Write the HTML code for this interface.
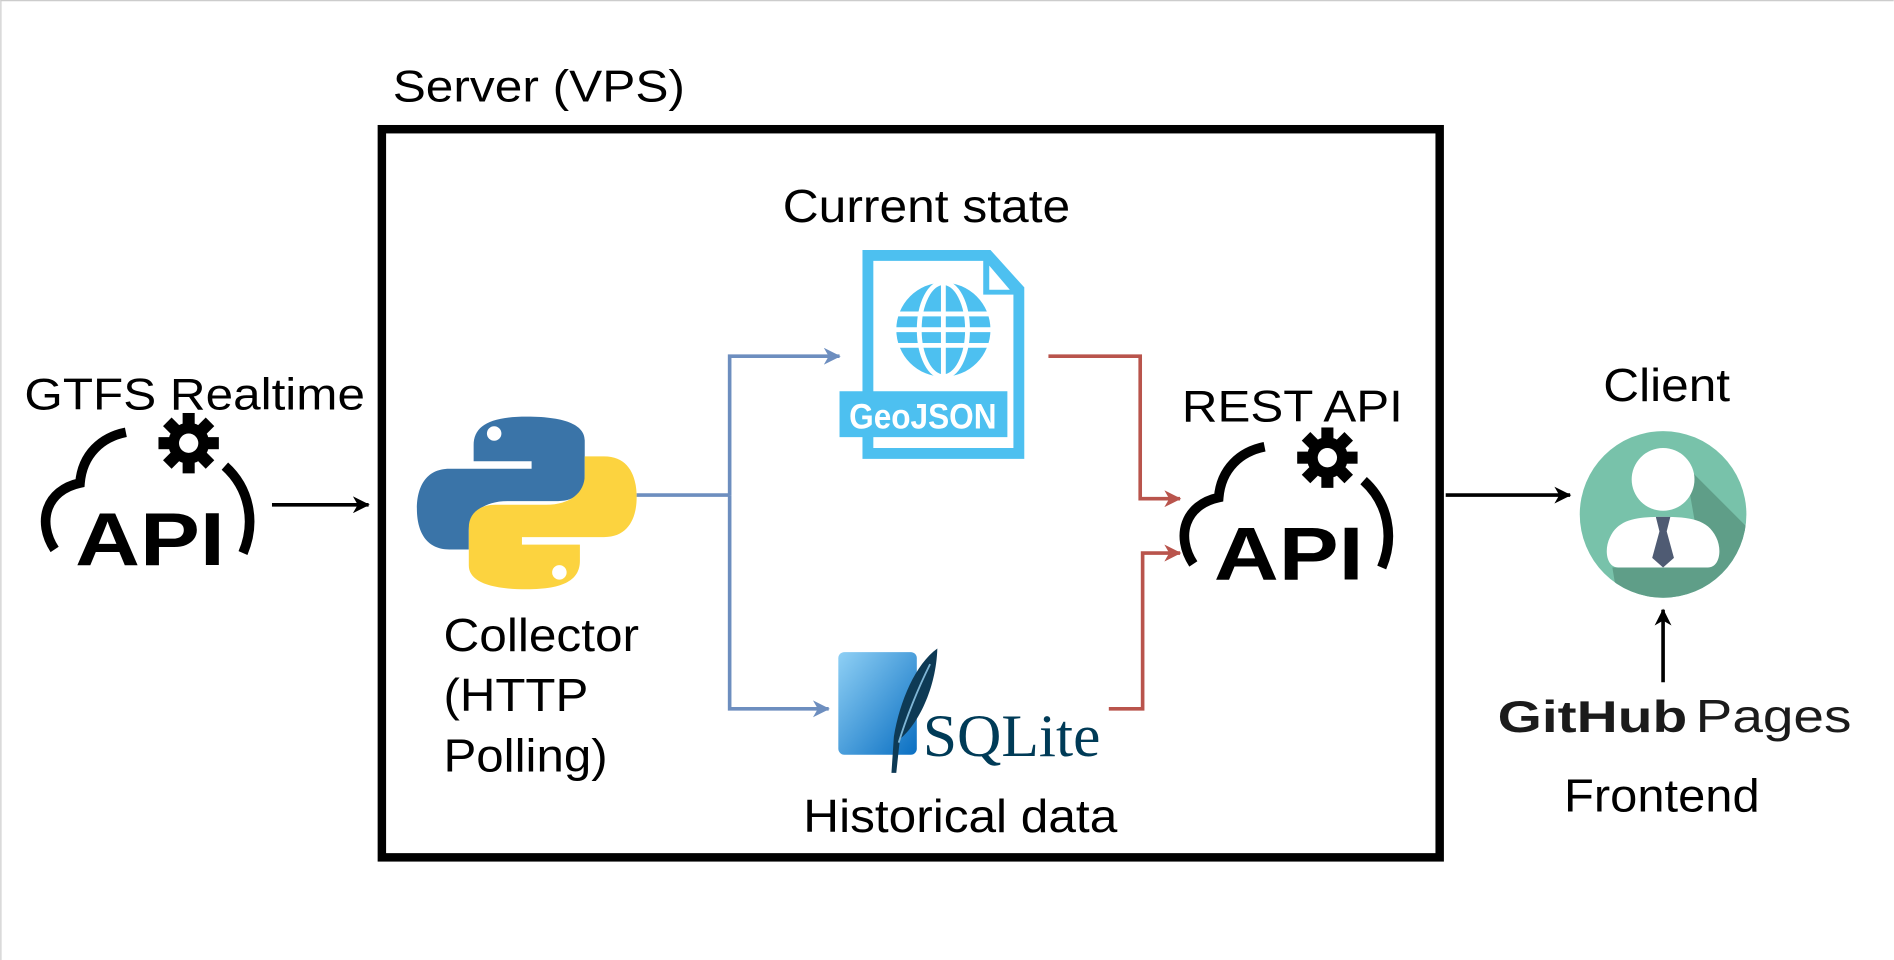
<!DOCTYPE html>
<html><head><meta charset="utf-8"><style>
html,body{margin:0;padding:0;background:#fff;}
svg{display:block;}
text{font-family:"Liberation Sans",Arial,sans-serif;}
</style></head><body>
<svg width="1894" height="960" viewBox="0 0 1568 795" xmlns="http://www.w3.org/2000/svg">
<defs>
<marker id="ab" markerWidth="14" markerHeight="14" refX="13" refY="7" orient="auto" markerUnits="userSpaceOnUse"><path d="M0,0 L14,7 L0,14 L4,7 Z" fill="#000"/></marker>
<marker id="ablue" markerWidth="14" markerHeight="14" refX="13" refY="7" orient="auto" markerUnits="userSpaceOnUse"><path d="M0,0 L14,7 L0,14 L4,7 Z" fill="#6d8ebf"/></marker>
<marker id="ared" markerWidth="14" markerHeight="14" refX="13" refY="7" orient="auto" markerUnits="userSpaceOnUse"><path d="M0,0 L14,7 L0,14 L4,7 Z" fill="#b9544c"/></marker>
<linearGradient id="sq" x1="0" y1="0" x2="1" y2="1"><stop offset="0" stop-color="#8fd0f5"/><stop offset="1" stop-color="#0a6fc2"/></linearGradient>
<path id="py" d="M436,345 C405,345 392,355 392,375 L392,392 L440,392 L440,400 L372,400 C352,400 345,420 345,442 C345,465 352,485 372,485 L388,485 L388,465 C388,447 400,434 420,434 L462,434 C476,434 484,424 484,410 L484,370 C484,355 470,345 436,345 Z" transform="translate(0,345) scale(1,0.786) translate(0,-345)"/>
<g id="cloud">
  <path d="M45,455 C30,432 38,406 66,400 C68,376 84,362 104,358" fill="none" stroke="#000" stroke-width="8" stroke-linecap="butt"/>
  <path d="M186,386 C206,404 212,432 201,458" fill="none" stroke="#000" stroke-width="8"/>
  <g transform="translate(156,367)">
    <circle r="17" fill="#000"/>
    <g fill="#000">
      <rect x="-5" y="-25" width="10" height="12"/>
      <rect x="-5" y="13" width="10" height="12"/>
      <rect x="-25" y="-5" width="12" height="10"/>
      <rect x="13" y="-5" width="12" height="10"/>
      <rect x="-5" y="-25" width="10" height="12" transform="rotate(45)"/>
      <rect x="-5" y="-25" width="10" height="12" transform="rotate(135)"/>
      <rect x="-5" y="-25" width="10" height="12" transform="rotate(225)"/>
      <rect x="-5" y="-25" width="10" height="12" transform="rotate(315)"/>
    </g>
    <circle r="8" fill="#fff"/>
  </g>
  <text x="62" y="468" font-size="62" font-weight="bold" textLength="124" lengthAdjust="spacingAndGlyphs">API</text>
</g>
</defs>
<line x1="0" y1="0.5" x2="1568" y2="0.5" stroke="#ccc"/>
<line x1="0.5" y1="0" x2="0.5" y2="795" stroke="#ccc"/>

<!-- Server box -->
<text x="325" y="84" font-size="37" textLength="242" lengthAdjust="spacingAndGlyphs">Server (VPS)</text>
<rect x="316" y="107" width="876" height="603" fill="none" stroke="#000" stroke-width="7"/>

<!-- GTFS -->
<text x="20" y="339" font-size="37" textLength="282" lengthAdjust="spacingAndGlyphs">GTFS Realtime</text>
<use href="#cloud"/>
<line x1="225" y1="418" x2="305" y2="418" stroke="#000" stroke-width="3" marker-end="url(#ab)"/>

<!-- Python logo -->
<g>
  <use href="#py" fill="#3a74a8"/>
  <use href="#py" fill="#fcd33f" transform="rotate(180 436 416.5)"/>
  <circle cx="409" cy="359" r="6" fill="#fff"/>
  <circle cx="463" cy="474" r="6" fill="#fff"/>
</g>
<text x="367" y="539" font-size="38" textLength="162" lengthAdjust="spacingAndGlyphs">Collector</text>
<text x="367" y="589" font-size="38" textLength="120" lengthAdjust="spacingAndGlyphs">(HTTP</text>
<text x="367" y="639" font-size="38" textLength="136" lengthAdjust="spacingAndGlyphs">Polling)</text>

<!-- Blue connectors -->
<polyline points="527,410 604,410" fill="none" stroke="#6d8ebf" stroke-width="3"/>
<polyline points="604,410 604,295 695,295" fill="none" stroke="#6d8ebf" stroke-width="3" marker-end="url(#ablue)"/>
<polyline points="604,410 604,587 686,587" fill="none" stroke="#6d8ebf" stroke-width="3" marker-end="url(#ablue)"/>

<!-- GeoJSON -->
<text x="767" y="184" font-size="38" text-anchor="middle" textLength="238" lengthAdjust="spacingAndGlyphs">Current state</text>
<g>
  <path d="M714,207 L820,207 L848,238 L848,380 L714,380 Z" fill="#4dc0f0"/>
  <path d="M723,216 L814,216 L814,244 L839,244 L839,371 L723,371 Z" fill="#fff"/>
  <path d="M819,220 L819,240 L836,240 Z" fill="#fff"/>
  <rect x="695" y="324" width="139" height="38" fill="#4dc0f0"/>
  <text x="764" y="355" font-size="29" font-weight="bold" fill="#fff" text-anchor="middle" textLength="122" lengthAdjust="spacingAndGlyphs">GeoJSON</text>
  <g transform="translate(781,273)">
    <circle r="39" fill="#4dc0f0"/>
    <g stroke="#fff" stroke-width="4" fill="none">
      <line x1="-40" y1="-13" x2="40" y2="-13"/>
      <line x1="-40" y1="0" x2="40" y2="0"/>
      <line x1="-40" y1="13" x2="40" y2="13"/>
      <line x1="0" y1="-40" x2="0" y2="40"/>
      <ellipse rx="20" ry="39"/>
    </g>
  </g>
</g>

<!-- SQLite -->
<g>
  <rect x="694" y="540" width="65" height="85" rx="5" fill="url(#sq)"/>
  <path d="M776,537 C758,550 745,580 740,610 L738,640 L742,640 L745,612 C760,600 775,570 776,537 Z" fill="#0e3a55"/>
  <path d="M770,550 C760,570 750,595 744,615" stroke="#7fb6d6" stroke-width="1.5" fill="none"/>
  <text x="764" y="626" font-size="50" style="font-family:'Liberation Serif',serif" fill="#003b57" textLength="147" lengthAdjust="spacingAndGlyphs">SQLite</text>
</g>
<text x="795" y="689" font-size="38" text-anchor="middle" textLength="260" lengthAdjust="spacingAndGlyphs">Historical data</text>

<!-- Red connectors -->
<polyline points="868,295 944,295 944,413 977,413" fill="none" stroke="#b9544c" stroke-width="3" marker-end="url(#ared)"/>
<polyline points="918,587 946,587 946,458 977,458" fill="none" stroke="#b9544c" stroke-width="3" marker-end="url(#ared)"/>

<!-- REST API -->
<text x="1070" y="349" font-size="37" text-anchor="middle" textLength="183" lengthAdjust="spacingAndGlyphs">REST API</text>
<use href="#cloud" transform="translate(943,12)"/>
<line x1="1197" y1="410" x2="1300" y2="410" stroke="#000" stroke-width="3" marker-end="url(#ab)"/>

<!-- Client -->
<text x="1380" y="332" font-size="38" text-anchor="middle" textLength="105" lengthAdjust="spacingAndGlyphs">Client</text>
<g>
  <circle cx="1377" cy="426" r="69" fill="#78c2aa"/>
  <clipPath id="cc"><circle cx="1377" cy="426" r="69"/></clipPath>
  <path d="M1395,385 L1460,450 L1420,500 L1340,500 L1335,470 L1410,470 Z" fill="#5f9e88" clip-path="url(#cc)"/>
  <circle cx="1377" cy="397" r="26" fill="#fff"/>
  <path d="M1340,470 C1330,470 1328,455 1333,445 C1340,430 1355,428 1377,428 C1399,428 1414,430 1421,445 C1426,455 1424,470 1414,470 Z" fill="#fff"/>
  <path d="M1371,428 L1383,428 L1380,440 L1386,462 L1377,470 L1368,462 L1374,440 Z" fill="#4f5b73"/>
</g>
<line x1="1377" y1="565" x2="1377" y2="505" stroke="#000" stroke-width="3" marker-end="url(#ab)"/>
<text x="1240" y="606" font-size="37" font-weight="bold" fill="#1b1b1b" textLength="157" lengthAdjust="spacingAndGlyphs">GitHub</text>
<text x="1404" y="606" font-size="38" fill="#1b1b1b" textLength="129" lengthAdjust="spacingAndGlyphs">Pages</text>
<text x="1376" y="672" font-size="38" text-anchor="middle" textLength="162" lengthAdjust="spacingAndGlyphs">Frontend</text>
</svg>
</body></html>
